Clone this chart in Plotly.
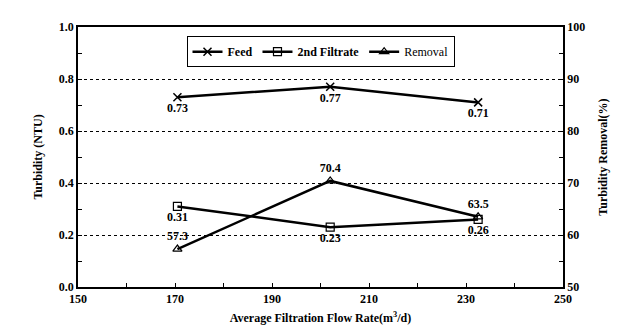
import plotly.graph_objects as go

flow_rate = [170.5, 202, 232.5]
feed = [0.73, 0.77, 0.71]
filtrate = [0.31, 0.23, 0.26]
removal = [57.3, 70.4, 63.5]

FONT = "Liberation Serif"
fnt = dict(family=FONT, size=12, color="black")

def lab(vals, fmt):
    return [("<b>" + fmt.format(v) + "</b>") for v in vals]

fig = go.Figure()
fig.add_trace(go.Scatter(
    x=flow_rate, y=feed, name="<b>Feed</b>", mode="lines+markers+text",
    line=dict(color="black", width=2.5),
    marker=dict(symbol="x-thin-open", size=8, color="black", line=dict(width=1.5, color="black")),
    text=lab(feed, "{:.2f}"), textposition="bottom center", textfont=fnt,
))
fig.add_trace(go.Scatter(
    x=flow_rate, y=filtrate, name="<b>2nd Filtrate</b>", mode="lines+markers+text",
    line=dict(color="black", width=2.5),
    marker=dict(symbol="square-open", size=8, color="black", line=dict(width=1.2)),
    text=lab(filtrate, "{:.2f}"), textposition="bottom center", textfont=fnt,
))
fig.add_trace(go.Scatter(
    x=flow_rate, y=removal, name="Removal", mode="lines+markers+text",
    line=dict(color="black", width=2.5),
    marker=dict(symbol="triangle-up-open", size=8, color="black", line=dict(width=1.2)),
    text=lab(removal, "{:.1f}"), textposition="top center", textfont=fnt,
    yaxis="y2",
))

tickf = dict(family=FONT, size=12, color="black", weight="bold")
titlef = dict(family=FONT, size=12, color="black")

fig.update_layout(
    width=621, height=336,
    margin=dict(l=70, r=66, t=14, b=57),
    paper_bgcolor="white", plot_bgcolor="white",
    font=dict(family=FONT, size=12, color="black"),
    showlegend=True,
    legend=dict(
        orientation="h", x=0.5, xanchor="center", y=0.905, yanchor="middle",
        bordercolor="black", borderwidth=1, bgcolor="white",
        font=dict(family=FONT, size=12, color="black"),
        itemwidth=30, tracegroupgap=0,
    ),
    xaxis=dict(
        range=[150, 250], dtick=20, tick0=150,
        showline=True, linecolor="black", linewidth=1.5, mirror=True,
        ticks="inside", ticklen=4, tickcolor="black",
        minor=dict(dtick=10, ticks="inside", ticklen=4, tickcolor="black"),
        showgrid=False, zeroline=False,
        tickfont=tickf,
        title=dict(text="<b>Average Filtration Flow Rate(m<sup>3</sup>/d)</b>", font=titlef, standoff=8),
    ),
    yaxis=dict(
        range=[0, 1.0], dtick=0.2, tickformat=".1f",
        showline=True, linecolor="black", linewidth=1.5,
        ticks="inside", ticklen=4, tickcolor="black",
        minor=dict(dtick=0.1, ticks="inside", ticklen=4, tickcolor="black"),
        showgrid=True, gridcolor="black", griddash="dot", gridwidth=1.2,
        zeroline=False,
        tickfont=tickf,
        title=dict(text="<b>Turbidity (NTU)</b>", font=titlef, standoff=14),
    ),
    yaxis2=dict(
        range=[50, 100], dtick=10, overlaying="y", side="right",
        showline=True, linecolor="black", linewidth=1.5,
        ticks="inside", ticklen=4, tickcolor="black",
        minor=dict(dtick=5, ticks="inside", ticklen=4, tickcolor="black"),
        showgrid=False, zeroline=False,
        tickfont=tickf,
        title=dict(text="<b>Turbidity Removal(%)</b>", font=titlef, standoff=14),
    ),
)

fig.write_html("out.html")
